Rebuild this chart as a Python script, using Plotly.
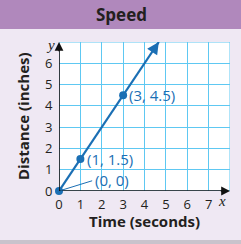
import plotly.graph_objects as go

# Data
point_x = [0, 1, 3]
point_y = [0, 1.5, 4.5]
point_labels = ["(0, 0)", "(1, 1.5)", "(3, 4.5)"]
line_end = [4.67, 7]
x_ticks = [0, 1, 2, 3, 4, 5, 6, 7]
y_ticks = [0, 1, 2, 3, 4, 5, 6]

BLUE = "#1b6fb4"
GRID = "#5ec8f2"
TXT = "#231f20"
FONT = "Open Sans"

W, H = 241, 244
L, R, T, B = 59, 11, 42, 53
PW, PH = W - L - R, H - T - B


def px(xp):
    return (xp - L) / PW


def py(yp):
    return (H - B - yp) / PH


fig = go.Figure()

fig.add_trace(go.Scatter(x=[point_x[0], line_end[0]], y=[point_y[0], line_end[1]],
                         mode="lines", line=dict(color=BLUE, width=2.2),
                         hoverinfo="skip", showlegend=False, cliponaxis=False))
fig.add_trace(go.Scatter(x=point_x, y=point_y, mode="markers", cliponaxis=False,
                         marker=dict(color=BLUE, size=8), showlegend=False))

ann = []
# line arrow
ann.append(dict(x=line_end[0], y=line_end[1], ax=line_end[0] - 0.2, ay=line_end[1] - 0.3,
                xref="x", yref="y", axref="x", ayref="y", showarrow=True,
                arrowhead=2, arrowsize=1.2, arrowwidth=2, arrowcolor=BLUE, text=""))
# axis arrows
ann.append(dict(x=8.0, y=0, ax=7.5, ay=0, xref="x", yref="y", axref="x", ayref="y",
                showarrow=True, arrowhead=2, arrowsize=1.1, arrowwidth=1.6,
                arrowcolor="#111", text=""))
ann.append(dict(x=0, y=7.0, ax=0, ay=6.5, xref="x", yref="y", axref="x", ayref="y",
                showarrow=True, arrowhead=2, arrowsize=1.1, arrowwidth=1.6,
                arrowcolor="#111", text=""))
# point labels
ann.append(dict(x=1.55, y=0.48, ax=point_x[0], ay=point_y[0], xref="x", yref="y",
                axref="x", ayref="y", showarrow=True, arrowhead=0, arrowwidth=1,
                arrowcolor=BLUE, text=""))
ann.append(dict(x=1.6, y=0.52, text=point_labels[0], showarrow=False, xanchor="left",
                font=dict(family=FONT, size=15, color=BLUE)))
ann.append(dict(x=1.2, y=point_y[1], text=point_labels[1], showarrow=False, xanchor="left",
                font=dict(family=FONT, size=15, color=BLUE)))
ann.append(dict(x=3.2, y=point_y[2], text=point_labels[2], showarrow=False, xanchor="left",
                font=dict(family=FONT, size=15, color=BLUE)))


def pann(xp, yp, text, size, family=FONT, angle=0):
    return dict(x=px(xp), y=py(yp), xref="paper", yref="paper",
                xanchor="center", yanchor="middle", textangle=angle,
                text=text, showarrow=False,
                font=dict(family=family, size=size, color=TXT))


# axis letters
ann.append(pann(50, 45, "<i>y</i>", 15, "Liberation Serif"))
ann.append(pann(222, 201, "<i>x</i>", 15, "Liberation Serif"))
# axis titles
ann.append(pann(144, 221, "<b>Time (seconds)</b>", 15))
ann.append(pann(23, 116, "<b>Distance (inches)</b>", 15, angle=-90))
# title
ann.append(pann(121, 15, "<b>Speed</b>", 17))

fig.update_layout(annotations=ann)

shapes = [
    dict(type="rect", xref="paper", yref="paper",
         x0=px(0), x1=px(W), y0=py(29), y1=py(0),
         fillcolor="#b088bc", line=dict(width=0), layer="below"),
    dict(type="rect", xref="paper", yref="paper",
         x0=px(0), x1=px(W), y0=py(H), y1=py(240),
         fillcolor="#c9c3cc", line=dict(width=0), layer="below"),
    dict(type="rect", xref="x", yref="y", x0=0, x1=8, y0=0, y1=7,
         line=dict(color=GRID, width=1), layer="below"),
    dict(type="line", xref="x", yref="y", x0=0, x1=7.8, y0=0, y1=0,
         line=dict(color="#111", width=1.6), layer="above"),
    dict(type="line", xref="x", yref="y", x0=0, x1=0, y0=0, y1=6.8,
         line=dict(color="#111", width=1.6), layer="above"),
]
fig.update_layout(shapes=shapes)

fig.update_xaxes(range=[0, 8], tickvals=x_ticks, showgrid=True, gridcolor=GRID, gridwidth=1,
                 zeroline=False, showline=False,
                 tickfont=dict(family=FONT, size=13, color=TXT),
                 ticks="outside", ticklen=1, tickcolor="rgba(0,0,0,0)",
                 fixedrange=True)
fig.update_yaxes(range=[0, 7], tickvals=y_ticks, showgrid=True, gridcolor=GRID, gridwidth=1,
                 zeroline=False, showline=False,
                 tickfont=dict(family=FONT, size=13, color=TXT),
                 ticks="outside", ticklen=3, tickcolor="rgba(0,0,0,0)",
                 fixedrange=True)

fig.update_layout(width=W, height=H,
                  margin=dict(l=L, r=R, t=T, b=B),
                  paper_bgcolor="#efe8f3", plot_bgcolor="white",
                  showlegend=False)

fig.write_html("out.html", config={"displayModeBar": False})
